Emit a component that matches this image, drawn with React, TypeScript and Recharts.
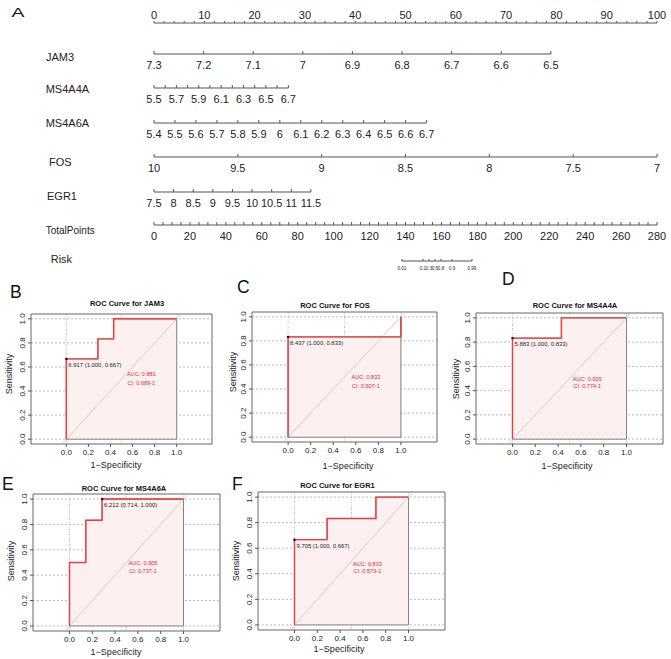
import React from 'react';
import {
  ComposedChart,
  LineChart,
  Line,
  Area,
  Scatter,
  XAxis,
  YAxis,
  CartesianGrid,
  ReferenceArea,
} from 'recharts';

const W = 671;
const H = 659;
const FONT = '"Liberation Sans", Arial, Helvetica, sans-serif';

// ---------- nomogram data ----------
const pointsLabels = [0, 10, 20, 30, 40, 50, 60, 70, 80, 90, 100];
const jam3Ticks = [7.3, 7.2, 7.1, 7.0, 6.9, 6.8, 6.7, 6.6, 6.5];
const ms4a4aTicks = [5.5, 5.6, 5.7, 5.8, 5.9, 6.0, 6.1, 6.2, 6.3, 6.4, 6.5, 6.6, 6.7];
const ms4a4aLabels = [5.5, 5.7, 5.9, 6.1, 6.3, 6.5, 6.7];
const ms4a6aTicks = [5.4, 5.5, 5.6, 5.7, 5.8, 5.9, 6.0, 6.1, 6.2, 6.3, 6.4, 6.5, 6.6, 6.7];
const fosTicks = [10, 9.5, 9, 8.5, 8, 7.5, 7];
const egr1Ticks = [7.5, 8, 8.5, 9, 9.5, 10, 10.5, 11, 11.5];
const totalLabels = [0, 20, 40, 60, 80, 100, 120, 140, 160, 180, 200, 220, 240, 260, 280];
const riskLabels = [0.01, 0.1, 0.3, 0.5, 0.8, 0.9, 0.99];
const riskAtTotal = [138.0, 149.7, 153.1, 156.4, 159.8, 165.9, 177.0];

// points reached at the far end of each predictor scale
const jam3MaxPts = 78.9;
const ms4a4aMaxPts = 26.7;
const ms4a6aMaxPts = 54.2;
const fosMaxPts = 100;
const egr1MaxPts = 31.2;

// ---------- ROC data ----------
const jam3Fpr = [0, 0, 0.286, 0.286, 0.429, 0.429, 1];
const jam3Tpr = [0, 0.667, 0.667, 0.833, 0.833, 1, 1];
const fosFpr = [0, 0, 1, 1];
const fosTpr = [0, 0.833, 0.833, 1];
const ms4a4aFpr = [0, 0, 0.429, 0.429, 1];
const ms4a4aTpr = [0, 0.833, 0.833, 1, 1];
const ms4a6aFpr = [0, 0, 0.143, 0.143, 0.286, 0.286, 1];
const ms4a6aTpr = [0, 0.5, 0.5, 0.833, 0.833, 1, 1];
const egr1Fpr = [0, 0, 0.286, 0.286, 0.714, 0.714, 1];
const egr1Tpr = [0, 0.667, 0.667, 0.833, 0.833, 1, 1];

const rocTicks = [0, 0.2, 0.4, 0.6, 0.8, 1.0];
const X_DOMAIN: [number, number] = [-0.32, 1.32];
const Y_DOMAIN: [number, number] = [-0.04, 1.04];

const steps = (from: number, to: number, by: number) => {
  const out: number[] = [];
  for (let v = from; v <= to + 1e-9; v += by) out.push(Math.round(v * 1000) / 1000);
  return out;
};

const PX0 = 154;
const PX_PER_POINT = 5.03;
const ptsToPx = (p: number) => PX0 + p * PX_PER_POINT;
const totalToPx = (t: number) => PX0 + (t / 280) * 100 * PX_PER_POINT;

const has = (arr: number[], v: number) => arr.some((a) => Math.abs(a - v) < 1e-6);

type RowDef = {
  x0: number;
  x1: number;
  lineY: number;
  domain: [number, number];
  reversed?: boolean;
  ticks: number[];
  label: (v: number, i: number) => string;
  top?: boolean;
  fontSize?: number;
  tickSize?: number;
  tickMargin?: number;
};

const rows: RowDef[] = [
  {
    x0: ptsToPx(0), x1: ptsToPx(100), lineY: 22.5, domain: [0, 100], top: true,
    ticks: steps(0, 100, 2), label: (v) => (has(pointsLabels, v) ? String(v) : ''),
  },
  {
    x0: ptsToPx(0), x1: ptsToPx(jam3MaxPts), lineY: 54, domain: [6.5, 7.3], reversed: true,
    ticks: jam3Ticks, label: (v) => String(v),
  },
  {
    x0: ptsToPx(0), x1: ptsToPx(ms4a4aMaxPts), lineY: 88.3, domain: [5.5, 6.7],
    ticks: ms4a4aTicks, label: (v) => (has(ms4a4aLabels, v) ? String(v) : ''),
  },
  {
    x0: ptsToPx(0), x1: ptsToPx(ms4a6aMaxPts), lineY: 123, domain: [5.4, 6.7],
    ticks: ms4a6aTicks, label: (v) => String(v),
  },
  {
    x0: ptsToPx(0), x1: ptsToPx(fosMaxPts), lineY: 157.3, domain: [7, 10], reversed: true,
    ticks: fosTicks, label: (v) => String(v),
  },
  {
    x0: ptsToPx(0), x1: ptsToPx(egr1MaxPts), lineY: 191.7, domain: [7.5, 11.5],
    ticks: egr1Ticks, label: (v) => String(v),
  },
  {
    x0: totalToPx(0), x1: totalToPx(280), lineY: 225, domain: [0, 280],
    ticks: steps(0, 280, 5), label: (v) => (has(totalLabels, v) ? String(v) : ''),
  },
  {
    x0: totalToPx(riskAtTotal[0]), x1: totalToPx(riskAtTotal[riskAtTotal.length - 1]), lineY: 260.5,
    domain: [riskAtTotal[0], riskAtTotal[riskAtTotal.length - 1]],
    ticks: riskAtTotal, label: (_v, i) => String(riskLabels[i]),
    fontSize: 4.6, tickSize: -2, tickMargin: 7.5,
  },
];

const AxisRow = ({ r }: { r: RowDef }) => {
  const CH = 30;
  const AXH = 22;
  const data = [{ v: r.domain[0], y: 0.5 }, { v: r.domain[1], y: 0.5 }];
  const top = r.top ? r.lineY - AXH : r.lineY - (CH - AXH);
  return (
    <div style={{ position: 'absolute', left: 0, top }}>
      <LineChart width={W} height={CH} data={data} margin={{ top: 0, right: W - r.x1, bottom: 0, left: r.x0 }}>
        <XAxis
          type="number"
          dataKey="v"
          domain={r.domain}
          reversed={r.reversed}
          ticks={r.ticks}
          interval={0}
          orientation={r.top ? 'top' : 'bottom'}
          height={AXH}
          allowDataOverflow
          axisLine={{ stroke: '#555' }}
          tickLine={{ stroke: '#555' }}
          tickSize={r.tickSize ?? (r.top ? 2 : -3)}
          tickMargin={r.tickMargin ?? (r.top ? 2 : 10)}
          tickFormatter={r.label}
          tick={{ fill: '#222', fontSize: r.fontSize ?? 11, fontFamily: FONT }}
        />
        <YAxis hide domain={[0, 1]} />
        <Line dataKey="y" stroke="none" dot={false} isAnimationActive={false} />
      </LineChart>
    </div>
  );
};

type Panel = {
  letter: string;
  title: string;
  fpr: number[];
  tpr: number[];
  best: { x: number; y: number; label: string };
  auc: string;
  ci: string;
  aucX: number;
  aucY: number;
  ciY: number;
  bx: number; by: number; bw: number; bh: number;
  letterX: number; letterY: number;
  titleX: number; titleY: number;
  sensX: number; sensY: number;
  specX: number; specY: number;
};

const panels: Panel[] = [
  {
    letter: 'B', title: 'ROC Curve for JAM3', fpr: jam3Fpr, tpr: jam3Tpr,
    best: { x: 0, y: 0.667, label: '6.917 (1.000, 0.667)' },
    auc: 'AUC: 0.881', ci: 'CI: 0.689-1', aucX: 0.68, aucY: 0.54, ciY: 0.465,
    bx: 31, by: 314, bw: 181, bh: 130, letterX: 10, letterY: 298, titleX: 127, titleY: 303,
    sensX: 9, sensY: 374, specX: 116, specY: 464.5,
  },
  {
    letter: 'C', title: 'ROC Curve for FOS', fpr: fosFpr, tpr: fosTpr,
    best: { x: 0, y: 0.833, label: '8.437 (1.000, 0.833)' },
    auc: 'AUC: 0.833', ci: 'CI: 0.507-1', aucX: 0.69, aucY: 0.5, ciY: 0.425,
    bx: 252, by: 312, bw: 185, bh: 130, letterX: 237, letterY: 293, titleX: 335, titleY: 305,
    sensX: 233, sensY: 372, specX: 348, specY: 465.5,
  },
  {
    letter: 'D', title: 'ROC Curve for MS4A4A', fpr: ms4a4aFpr, tpr: ms4a4aTpr,
    best: { x: 0, y: 0.833, label: '5.883 (1.000, 0.833)' },
    auc: 'AUC: 0.929', ci: 'CI: 0.774-1', aucX: 0.656, aucY: 0.5, ciY: 0.44,
    bx: 476, by: 313, bw: 187, bh: 131, letterX: 502, letterY: 285, titleX: 575, titleY: 305,
    sensX: 456, sensY: 379, specX: 567, specY: 466,
  },
  {
    letter: 'E', title: 'ROC Curve for MS4A6A', fpr: ms4a6aFpr, tpr: ms4a6aTpr,
    best: { x: 0.286, y: 1.0, label: '6.212 (0.714, 1.000)' },
    auc: 'AUC: 0.905', ci: 'CI: 0.737-1', aucX: 0.645, aucY: 0.5, ciY: 0.43,
    bx: 33, by: 494, bw: 187, bh: 137, letterX: 2, letterY: 490, titleX: 124, titleY: 488,
    sensX: 11, sensY: 561, specX: 116, specY: 651.5,
  },
  {
    letter: 'F', title: 'ROC Curve for EGR1', fpr: egr1Fpr, tpr: egr1Tpr,
    best: { x: 0, y: 0.667, label: '9.705 (1.000, 0.667)' },
    auc: 'AUC: 0.833', ci: 'CI: 0.579-1', aucX: 0.64, aucY: 0.48, ciY: 0.42,
    bx: 258, by: 492, bw: 187, bh: 138, letterX: 232, letterY: 490, titleX: 337.5, titleY: 485.5,
    sensX: 236, sensY: 561, specX: 339, specY: 649,
  },
];

const BestShape = (props: any) => {
  const { cx, cy, payload } = props;
  return (
    <g>
      <circle cx={cx} cy={cy} r={1.2} fill="#000" />
      <text x={cx + 2} y={cy + 8} fontSize={5.9} fill="#222" fontFamily={FONT}>
        {payload.label}
      </text>
    </g>
  );
};

const AucShape = (props: any) => {
  const { cx, cy, payload } = props;
  return (
    <text x={cx} y={cy} textAnchor="middle" dominantBaseline="central" fontSize={5.6} fill="#e8262c" fontFamily={FONT}>
      {payload.text}
    </text>
  );
};

const YTick = (props: any) => {
  const { x, y, payload } = props;
  return (
    <text x={x} y={y} transform={`rotate(-90 ${x} ${y})`} textAnchor="middle" fontSize={8} fill="#222" fontFamily={FONT}>
      {Number(payload.value).toFixed(1)}
    </text>
  );
};

const RocPanel = ({ p }: { p: Panel }) => {
  const L = 31;
  const T = 2;
  const R = 3;
  const B = 26;
  const curve = p.fpr.map((x, i) => ({ x, y: p.tpr[i] }));
  const fill = [...curve, { x: 1, y: 0 }];
  const outline = [...curve, { x: 1, y: 0 }, { x: 0, y: 0 }];
  const diag = [{ x: Y_DOMAIN[0], y: Y_DOMAIN[0] }, { x: Y_DOMAIN[1], y: Y_DOMAIN[1] }];
  const aucText = [
    { x: p.aucX, y: p.aucY, text: p.auc },
    { x: p.aucX, y: p.ciY, text: p.ci },
  ];
  return (
    <div style={{ position: 'absolute', left: p.bx - L, top: p.by - T }}>
      <ComposedChart width={L + p.bw + R} height={T + p.bh + B} margin={{ top: T, right: R, bottom: 0, left: 3 }}>
        <CartesianGrid vertical={false} horizontalValues={rocTicks} stroke="#a8a8a8" strokeDasharray="2 2" strokeWidth={0.8} />
        <CartesianGrid horizontal={false} verticalValues={[0, 0.5, 1]} stroke="#a8a8a8" strokeDasharray="1 1.5" strokeWidth={0.8} />
        <XAxis
          type="number"
          dataKey="x"
          domain={X_DOMAIN}
          ticks={rocTicks}
          interval={0}
          allowDataOverflow
          height={B}
          axisLine={false}
          tickLine={{ stroke: '#555' }}
          tickSize={3}
          tickMargin={2}
          tickFormatter={(v: number) => v.toFixed(1)}
          tick={{ fill: '#222', fontSize: 8, fontFamily: FONT }}
        />
        <YAxis
          type="number"
          dataKey="y"
          domain={Y_DOMAIN}
          ticks={rocTicks}
          interval={0}
          allowDataOverflow
          width={L - 3}
          axisLine={false}
          tickLine={{ stroke: '#555' }}
          tickSize={3}
          tickMargin={3}
          tick={<YTick />}
        />
        <Area data={fill} dataKey="y" type="linear" fill="#fdf0f0" fillOpacity={1} stroke="none" isAnimationActive={false} />
        <Line data={outline} dataKey="y" type="linear" stroke="#777" strokeWidth={0.9} dot={false} isAnimationActive={false} />
        <Line data={diag} dataKey="y" type="linear" stroke="#c4c4c4" strokeWidth={0.8} dot={false} isAnimationActive={false} />
        <Line data={curve} dataKey="y" type="linear" stroke="#f23a3a" strokeWidth={1.4} dot={false} isAnimationActive={false} />
        <Scatter data={[p.best]} dataKey="y" shape={BestShape} isAnimationActive={false} />
        <Scatter data={aucText} dataKey="y" shape={AucShape} isAnimationActive={false} />
        <ReferenceArea
          x1={X_DOMAIN[0]}
          x2={X_DOMAIN[1]}
          y1={Y_DOMAIN[0]}
          y2={Y_DOMAIN[1]}
          fill="none"
          fillOpacity={0}
          stroke="#666"
          strokeWidth={1}
          ifOverflow="visible"
        />
      </ComposedChart>
    </div>
  );
};

const rowNames = [
  { text: 'JAM3', x: 46, y: 56.7 },
  { text: 'MS4A4A', x: 45.7, y: 89 },
  { text: 'MS4A6A', x: 45.7, y: 123 },
  { text: 'FOS', x: 49, y: 161.7 },
  { text: 'EGR1', x: 47, y: 196 },
  { text: 'TotalPoints', x: 45.7, y: 229.7, len: 49 },
  { text: 'Risk', x: 50.7, y: 259 },
];

export default function App() {
  return (
    <div style={{ position: 'absolute', left: 0, top: 0, width: W, height: H, background: '#fff', overflow: 'hidden', fontFamily: FONT }}>
      {rows.map((r, i) => (
        <AxisRow key={i} r={r} />
      ))}
      {panels.map((p) => (
        <RocPanel key={p.letter} p={p} />
      ))}
      <svg width={W} height={H} style={{ position: 'absolute', left: 0, top: 0, pointerEvents: 'none' }} fontFamily={FONT}>
        <text transform="translate(11.5,16.5) scale(1.55,1)" fontSize={12.5} fill="#111">A</text>
        {rowNames.map((n) => (
          <text
            key={n.text}
            x={n.x}
            y={n.y}
            dominantBaseline="central"
            fontSize={11}
            fill="#222"
            textLength={n.len}
            lengthAdjust={n.len ? 'spacingAndGlyphs' : undefined}
          >
            {n.text}
          </text>
        ))}
        {panels.map((p) => (
          <g key={p.letter}>
            <text x={p.letterX} y={p.letterY} fontSize={17.5} fill="#111">{p.letter}</text>
            <text x={p.titleX} y={p.titleY} textAnchor="middle" dominantBaseline="central" fontSize={7.5} fontWeight="bold" fill="#111">
              {p.title}
            </text>
            <text
              x={p.sensX}
              y={p.sensY}
              transform={`rotate(-90 ${p.sensX} ${p.sensY})`}
              textAnchor="middle"
              dominantBaseline="central"
              fontSize={9}
              fill="#222"
            >
              Sensitivity
            </text>
            <text x={p.specX} y={p.specY} textAnchor="middle" dominantBaseline="central" fontSize={9} fill="#222">
              1−Specificity
            </text>
          </g>
        ))}
      </svg>
    </div>
  );
}
